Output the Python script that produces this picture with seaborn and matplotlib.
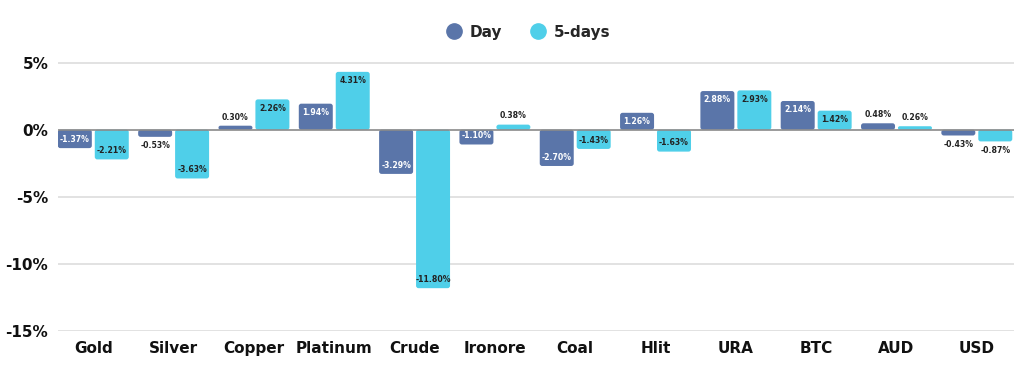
import matplotlib
matplotlib.use("Agg")
import matplotlib.pyplot as plt
import seaborn as sns
import pandas as pd
from matplotlib.lines import Line2D
from matplotlib.patches import FancyBboxPatch

categories = ["Gold", "Silver", "Copper", "Platinum", "Crude", "Ironore",
              "Coal", "Hlit", "URA", "BTC", "AUD", "USD"]
day_values = [-1.37, -0.53, 0.30, 1.94, -3.29, -1.10, -2.70, 1.26, 2.88, 2.14, 0.48, -0.43]
five_day_values = [-2.21, -3.63, 2.26, 4.31, -11.80, 0.38, -1.43, -1.63, 2.93, 1.42, 0.26, -0.87]
series_names = ["Day", "5-days"]
y_ticks = [5, 0, -5, -10, -15]

DAY_COLOR = "#5A75A9"
FIVE_COLOR = "#4FCFE9"

sns.set_theme(style="white")
plt.rcParams["font.family"] = ["DejaVu Sans"]
plt.rcParams["font.weight"] = "bold"

df = pd.DataFrame({
    "category": categories * 2,
    "value": day_values + five_day_values,
    "series": [series_names[0]] * len(categories) + [series_names[1]] * len(categories),
})

fig = plt.figure(figsize=(10.24, 3.7), dpi=100)
ax = fig.add_axes([0.0566, 0.105, 0.9334, 0.744])

sns.barplot(data=df, x="category", y="value", hue="series", order=categories,
            hue_order=series_names, palette=[DAY_COLOR, FIVE_COLOR],
            width=0.92, gap=0.08, ax=ax, legend=False, errorbar=None,
            linewidth=0, saturation=1)

ax.set_ylim(-15, 5.5)
ax.set_xlim(-0.44, len(categories) - 0.54)
ax.set_yticks(y_ticks)
ax.set_yticklabels([f"{t}%" for t in y_ticks], fontsize=11, fontweight="bold", color="#111111")
ax.set_xticks(range(len(categories)))
ax.set_xticklabels(categories, fontsize=11, fontweight="bold", color="#111111")
ax.tick_params(axis="both", length=0, pad=7)
ax.tick_params(axis="x", pad=7)
ax.set_xlabel("")
ax.set_ylabel("")
for s in ax.spines.values():
    s.set_visible(False)
for t in y_ticks:
    if t == 0:
        continue
    ax.axhline(t, color="#dddddd", linewidth=1.2, zorder=0)
ax.axhline(0, color="#8a8a8a", linewidth=1.2, zorder=3)

# rounded bar corners
fig.canvas.draw()
bb = ax.get_window_extent()
xr = ax.get_xlim()[1] - ax.get_xlim()[0]
yr = ax.get_ylim()[1] - ax.get_ylim()[0]
x_per_px = xr / bb.width
y_per_px = yr / bb.height
aspect = y_per_px / x_per_px
radius = 2.5 * x_per_px
for cont in ax.containers:
    for bar in cont:
        x0, w = bar.get_x(), bar.get_width()
        y0, h = bar.get_y(), bar.get_height()
        if h < 0:
            y0, h = y0 + h, -h
        r = min(radius, (h / aspect) / 2, w / 2)
        fb = FancyBboxPatch((x0, y0), w, h,
                            boxstyle=f"round,pad=0,rounding_size={r}",
                            mutation_aspect=aspect, facecolor=bar.get_facecolor(),
                            edgecolor="none", linewidth=0, zorder=2)
        ax.add_patch(fb)
        bar.set_visible(False)

# data labels
for ci, (cont, vals) in enumerate(zip(ax.containers, [day_values, five_day_values])):
    for bar, v in zip(cont, vals):
        x = bar.get_x() + bar.get_width() / 2
        inside = abs(v) >= 1.0
        if ci == 0:
            col = "white" if inside else "#222222"
        else:
            col = "#222222"
        if inside:
            off = -3 if v > 0 else 3
            va = "top" if v > 0 else "bottom"
        else:
            off = 3 if v > 0 else -3
            va = "bottom" if v > 0 else "top"
        ax.annotate(f"{v:.2f}%", (x, v), xytext=(0, off), textcoords="offset points",
                    ha="center", va=va, fontsize=5.6, fontweight="bold", color=col, zorder=5)

handles = [Line2D([], [], marker="o", linestyle="", markersize=11, color=DAY_COLOR),
           Line2D([], [], marker="o", linestyle="", markersize=11, color=FIVE_COLOR)]
fig.legend(handles, series_names, loc="center", bbox_to_anchor=(0.514, 0.913), ncol=2,
           frameon=False, prop={"weight": "bold", "size": 11}, handletextpad=0.3,
           columnspacing=1.6, handlelength=1.5)

fig.savefig("out.png", dpi=100)
